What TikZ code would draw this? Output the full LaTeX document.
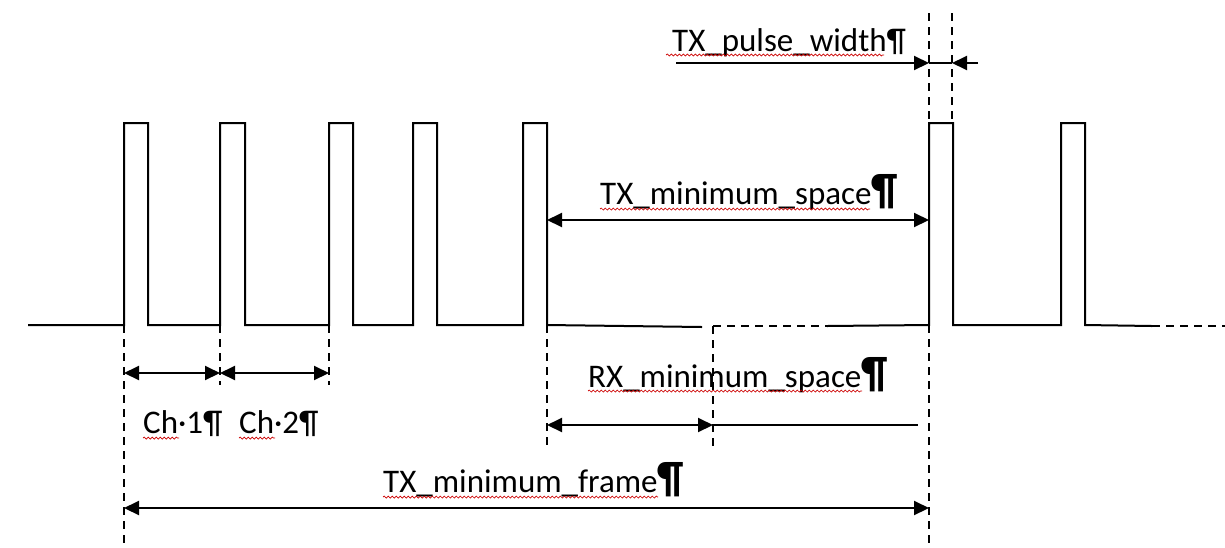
\documentclass[tikz,border=0pt]{standalone}
\usepackage{fontspec}
\setmainfont{Carlito}
\usetikzlibrary{arrows.meta,decorations.pathmorphing}
\newcommand{\bigpil}{{\fontsize{44}{44}\selectfont\bfseries ¶}}
\tikzset{
  wave/.style={line width=2pt, line join=miter},
  guide/.style={line width=1.6pt, dash pattern=on 8pt off 6pt},
  dim/.style={line width=2pt, {Triangle[length=15pt,width=14pt]}-{Triangle[length=15pt,width=14pt]}},
  dimr/.style={line width=2pt, -{Triangle[length=15pt,width=14pt]}},
  plain/.style={line width=2pt},
  lbl/.style={anchor=base west, inner sep=0pt, font=\fontsize{33}{38}\selectfont},
  spell/.style={red!80!black, line width=0.7pt, decorate, decoration={snake, segment length=4pt, amplitude=1pt}}
}
\begin{document}
\begin{tikzpicture}[x=1pt,y=-1pt]
\useasboundingbox (0,0) rectangle (1225,547);
% key coordinates
\coordinate (s) at (28,325);
\coordinate (p1) at (124,325);
\coordinate (p2) at (220,325);
\coordinate (p3) at (329,325);
\coordinate (p5) at (547,325);
\coordinate (rx) at (713,326);
\coordinate (p6) at (929,325);
\coordinate (p6r) at (952,123);
% waveform
\draw[wave] (s) -- (124,325) -- (124,123) -- (148,123) -- (148,325) -- (220,325) -- (220,123) -- (245,123) -- (245,325)
  -- (329,325) -- (329,123) -- (353,123) -- (353,325) -- (413,325) -- (413,123) -- (437,123) -- (437,325)
  -- (523,325) -- (523,123) -- (547,123) -- (547,325) -- (702,327);
\draw[guide] (rx) -- (827,326);
\draw[wave] (827,326) -- (929,325) -- (929,123) -- (953,123) -- (953,325) -- (1061,325) -- (1061,123) -- (1085,123) -- (1085,325) -- (1152,326);
\draw[guide] (1152,326) -- (1225,326);
% guide lines
\coordinate (g1b) at (124,547);
\coordinate (g2b) at (220,385);
\coordinate (g3b) at (329,385);
\coordinate (g5b) at (547,447);
\coordinate (grxb) at (713,447);
\coordinate (g6b) at (929,547);
\coordinate (g6t) at (929,13);
\coordinate (g6rt) at (952,13);
\draw[guide] (p1) -- (g1b);
\draw[guide] (p2) -- (g2b);
\draw[guide] (p3) -- (g3b);
\draw[guide] (p5) -- (g5b);
\draw[guide] (rx) -- (grxb);
\draw[guide] (p6) -- (g6b);
\draw[guide] (g6t) -- (929,123);
\draw[guide] (g6rt) -- (p6r);
% dimension arrows
\coordinate (c1a) at (124,373); \coordinate (c1b) at (220,373); \coordinate (c2b) at (329,373);
\draw[dim] (c1a) -- (c1b);
\draw[dim] (c1b) -- (c2b);
\coordinate (sa) at (547,220); \coordinate (sb) at (929,220);
\draw[dim] (sa) -- (sb);
\coordinate (ra) at (547,425); \coordinate (rb) at (713,425); \coordinate (rc) at (918,425);
\draw[dim] (ra) -- (rb);
\draw[plain] (rb) -- (rc);
\coordinate (fa) at (124,508); \coordinate (fb) at (929,508);
\draw[dim] (fa) -- (fb);
\coordinate (wa) at (676,63); \coordinate (wb) at (929,63); \coordinate (wc) at (952,63); \coordinate (wd) at (978,63);
\draw[dimr] (wa) -- (wb);
\draw[plain] (wb) -- (wc);
\draw[dimr] (wd) -- (wc);
% labels
\node[lbl] (tpw) at (672,51) {TX\_pulse\_width¶};
\node[lbl] (tms) at (600,204) {TX\_minimum\_space\bigpil};
\node[lbl] (rms) at (588,387) {RX\_minimum\_space\bigpil};
\node[lbl] (tmf) at (383,492) {TX\_minimum\_frame\bigpil};
\node[lbl] (ch1) at (143,433) {Ch·1¶};
\node[lbl] (ch2) at (239,433) {Ch·2¶};
% spell-check underlines
\draw[spell] (666,55) -- (884,55);
\draw[spell] (600,209) -- (870,209);
\draw[spell] (588,391) -- (862,391);
\draw[spell] (383,497) -- (658,497);
\draw[spell] (143,438) -- (179,438);
\draw[spell] (239,438) -- (275,438);
\end{tikzpicture}
\end{document}
